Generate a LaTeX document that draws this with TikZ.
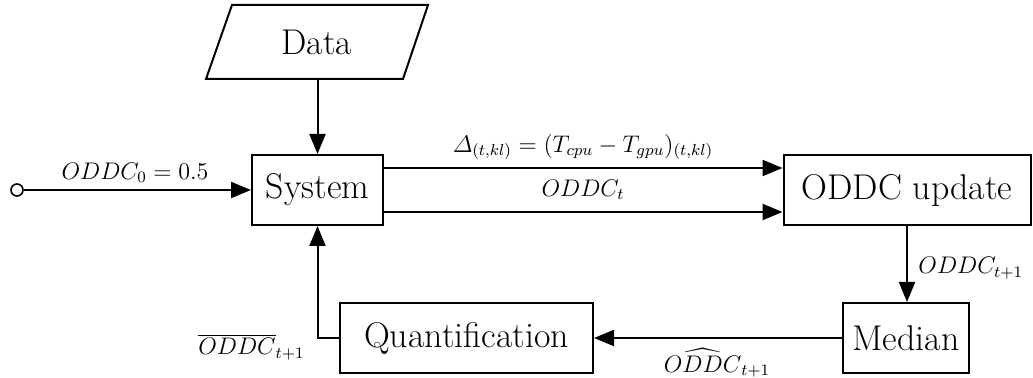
\documentclass[tikz,border=0pt]{standalone}
\usepackage{fontspec}
\usepackage{amsmath}
\usetikzlibrary{arrows.meta}
\begin{document}
\begin{tikzpicture}[x=0.5pt,y=-0.5pt,
  box/.style={draw,line width=1pt,minimum height=35pt,inner sep=0pt,font=\fontsize{17.9}{21}\selectfont},
  lbl/.style={font=\fontsize{12}{14}\selectfont,inner sep=1pt},
  arr/.style={line width=1pt,-{Triangle[length=10pt,width=8pt]}},
  ln/.style={line width=1pt}]
\useasboundingbox (0,0) rectangle (1033,378);
\node[box,minimum width=65.5pt] (sys) at (317.5,190) {System};
\node[box,minimum width=123.5pt] (upd) at (907,190) {ODDC update};
\node[box,minimum width=63pt] (med) at (906,338) {Median};
\node[box,minimum width=126.5pt] (qua) at (466.5,338) {Quantification};
\draw[ln] (232,5) -- (428,5) -- (403,79) -- (206,79) -- cycle;
\node[font=\fontsize{17.9}{21}\selectfont,inner sep=0pt] (data) at (317,42) {Data};
\coordinate (dataB) at (317.5,79);
\draw[arr] (dataB) -- (dataB |- sys.north);
\node[circle,draw,fill=white,minimum size=6pt,inner sep=0pt,line width=0.8pt] (in) at (17,190) {};
\draw[arr] (in) -- (sys);
\node[lbl] (l0) at (135,173) {$ODDC_0=0.5$};
\draw[arr] ([yshift=11pt]sys.east) -- ([yshift=11pt]upd.west);
\draw[arr] ([yshift=-11pt]sys.east) -- ([yshift=-11pt]upd.west);
\node[lbl] (ld) at (583,147) {$\varDelta_{(t,kl)}=(T_{cpu}-T_{gpu})_{(t,kl)}$};
\node[lbl] (lt) at (583,190) {$ODDC_t$};
\draw[arr] (upd.south) -- (upd.south |- med.north);
\node[lbl,anchor=west] (lu) at (916,268) {$ODDC_{t+1}$};
\draw[arr] (med) -- (qua);
\node[lbl] (lh) at (717,363) {$\widehat{ODDC}_{t+1}$};
\draw[arr] (qua.west) -| (sys.south);
\node[lbl,anchor=east] (lb) at (307,347) {$\overline{ODDC}_{t+1}$};
\end{tikzpicture}
\end{document}
